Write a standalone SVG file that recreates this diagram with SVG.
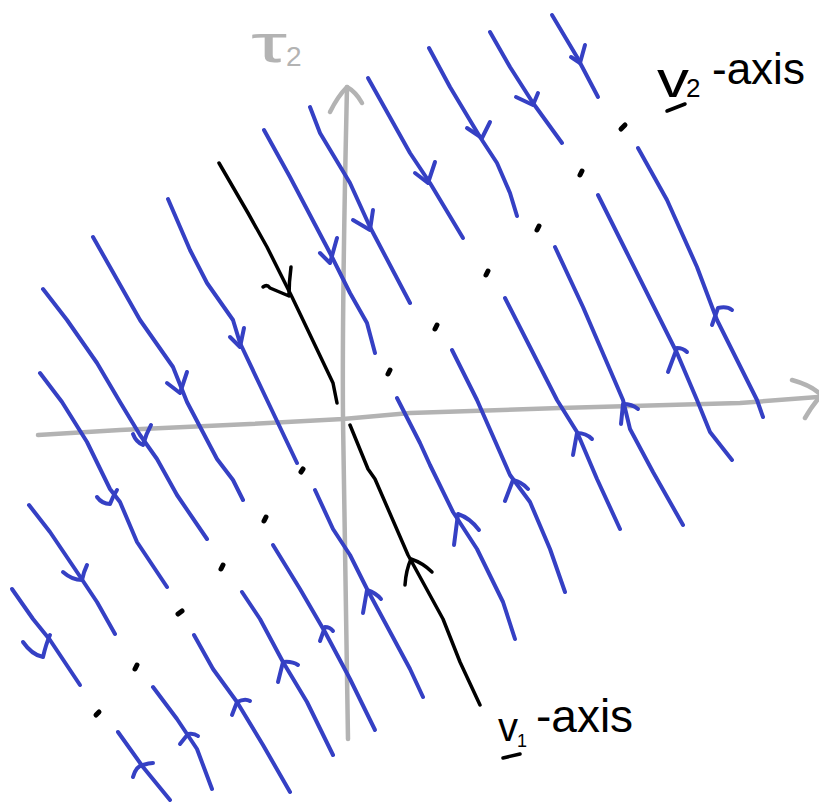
<svg xmlns="http://www.w3.org/2000/svg" width="819" height="804" viewBox="0 0 819 804">
<style>
.ax{fill:none;stroke:#b3b3b3;stroke-width:4.5;stroke-linecap:round;stroke-linejoin:round}
.tr{fill:none;stroke:#3540c4;stroke-width:4;stroke-linecap:round;stroke-linejoin:round}
.bk{fill:none;stroke:#000;stroke-width:3.5;stroke-linecap:round;stroke-linejoin:round}
.dot{fill:none;stroke:#000;stroke-width:5;stroke-linecap:round}
.lbl{font-family:"Liberation Sans",Arial,sans-serif;fill:#000}
.glbl{font-family:"Liberation Sans",Arial,sans-serif;fill:#b3b3b3}
</style>
<rect width="819" height="804" fill="#fff"/>
<g id="axes">
<path class="ax" d="M348,739 C346,600 343,480 343,420 C342,300 345,180 347,87"/>
<path class="ax" d="M330,112 Q338,96 347,87 Q356,92 362,103"/>
<path class="ax" d="M38,435 L120,430 L250,424 L343,419 L410,413 L560,408 L740,403 L818,397"/>
<path class="ax" d="M792,380 Q810,385 819,393 M805,418 Q812,406 819,398"/>
<text id="tau2" class="glbl"><tspan x="251" y="62" font-size="54" textLength="36" lengthAdjust="spacingAndGlyphs">τ</tspan><tspan x="286" y="66" font-size="28">2</tspan></text>
</g>
<g id="trajectories">
<g id="t1"><path class="tr" d="M43,289 L67,320 L97,363 L120,402 L140,435 L157,459 L177,495 L207,539"/><path class="tr" d="M133,434 Q136,442 143,445 Q146,434 151,425"/></g>
<g id="t2"><path class="tr" d="M93,237 L110,267 L140,320 L173,367 L187,402 L217,459 L233,480 L243,500"/><path class="tr" d="M167,383 L180,393 L187,372"/></g>
<g id="t3"><path class="tr" d="M168,199 L190,250 L207,283 L233,320 L240,343 L267,400 L297,463"/><path class="tr" d="M230,337 L240,347 L244,328"/></g>
<g id="t5"><path class="tr" d="M264,130 L290,177 L330,253 L350,293 L367,323 L375,353"/><path class="tr" d="M320,253 L330,263 L337,238"/></g>
<g id="t6"><path class="tr" d="M310,107 L320,133 L350,183 L370,227 L410,303"/><path class="tr" d="M353,220 L370,230 L373,210"/></g>
<g id="t7"><path class="tr" d="M368,78 L410,153 L430,183 L463,238"/><path class="tr" d="M415,173 L428,183 L435,162"/></g>
<g id="t8"><path class="tr" d="M429,48 L450,87 L480,137 L497,163 L510,193 L517,216"/><path class="tr" d="M467,128 L482,138 L490,122"/></g>
<g id="t9"><path class="tr" d="M490,32 L510,67 L533,103 L562,143"/><path class="tr" d="M516,97 L533,105 L538,93"/></g>
<g id="t10"><path class="tr" d="M552,15 L577,57 L598,97"/><path class="tr" d="M571,57 L580,63 L585,45"/></g>
<g id="t11"><path class="tr" d="M638,148 L667,200 L697,267 L717,320 L757,400 L763,417"/><path class="tr" d="M712,325 L718,308 Q727,306 732,310"/></g>
<g id="t12"><path class="tr" d="M598,195 L627,253 L677,353 L697,400 L710,432 L732,460"/><path class="tr" d="M668,372 L677,348 Q683,348 687,352"/></g>
<g id="t13"><path class="tr" d="M555,247 L583,307 L623,400 L630,429 L653,472 L683,525"/><path class="tr" d="M621,424 L623,404 Q632,404 638,409"/></g>
<g id="t14"><path class="tr" d="M505,298 L530,347 L557,400 L577,432 L597,479 L620,529"/><path class="tr" d="M573,455 L577,433 Q586,433 592,439"/></g>
<g id="t15"><path class="tr" d="M452,350 L477,400 L510,475 L530,502 L550,549 L565,592"/><path class="tr" d="M505,501 L513,480 Q522,482 528,489"/></g>
<g id="t16"><path class="tr" d="M397,398 L420,443 L430,465 L453,512 L477,549 L503,602 L515,639"/><path class="tr" d="M454,545 L458,514 Q470,518 479,530"/></g>
<g id="t17"><path class="tr" d="M40,373 L62,402 L87,442 L110,489 L120,502 L137,542 L167,587"/><path class="tr" d="M97,497 Q102,504 110,504 Q113,496 117,490"/></g>
<g id="t18"><path class="tr" d="M29,505 L50,532 L77,572 L97,602 L115,634"/><path class="tr" d="M63,572 Q72,580 82,580 Q84,571 87,565"/></g>
<g id="t19"><path class="tr" d="M12,589 L33,619 L50,640 L80,685"/><path class="tr" d="M23,642 Q32,655 43,657 Q46,644 50,635"/></g>
<g id="t20"><path class="tr" d="M315,490 L333,529 L350,555 L367,589 L410,669 L423,697"/><path class="tr" d="M363,613 L367,590 Q376,593 381,599"/></g>
<g id="t21"><path class="tr" d="M273,545 L300,589 L325,632 L350,679 L375,730"/><path class="tr" d="M320,641 L325,627 Q330,627 333,631"/></g>
<g id="t22"><path class="tr" d="M242,592 L260,619 L283,662 L307,702 L333,755"/><path class="tr" d="M278,682 L283,662 Q292,661 298,665"/></g>
<g id="t23"><path class="tr" d="M194,635 L213,669 L237,702 L263,745 L290,792"/><path class="tr" d="M232,715 L237,702 Q245,698 250,701"/></g>
<g id="t24"><path class="tr" d="M153,687 L177,719 L197,749 L212,789"/><path class="tr" d="M180,744 L188,734 Q194,733 198,736"/></g>
<g id="t25"><path class="tr" d="M118,732 L143,767 L170,800"/><path class="tr" d="M133,777 Q136,766 143,765 Q149,763 153,763"/></g>
</g>
<g id="v1-axis">
<path class="bk" d="M219,163 L248,213 L267,247 L292,297 L303,320 L333,383 L337,403"/>
<path class="bk" d="M263,287 Q267,284 270,288 L289,296 Q289,282 291,267"/>
<path class="bk" d="M350,425 L368,469 L375,479 L408,555 L443,619 L460,662 L480,705"/>
<path class="bk" d="M405,585 Q406,570 411,559 Q423,563 432,572"/>
</g>
<g id="v2-axis-dots">
<path class="dot" d="M621,129 L625,125"/>
<path class="dot" d="M580,175 L582,171"/>
<path class="dot" d="M537,230 L539,226"/>
<path class="dot" d="M486,275 L488,271"/>
<path class="dot" d="M435,329 L437,325"/>
<path class="dot" d="M388,374 L390,370"/>
<path class="dot" d="M301,472 L303,469"/>
<path class="dot" d="M264,521 L266,517"/>
<path class="dot" d="M221,569 L223,565"/>
<path class="dot" d="M178,614 L182,611"/>
<path class="dot" d="M135,669 L137,665"/>
<path class="dot" d="M96,715 L99,712"/>
</g>
<g id="labels">
<text class="lbl"><tspan x="657" y="97" font-size="52" textLength="32" lengthAdjust="spacingAndGlyphs">v</tspan><tspan x="686" y="97" font-size="26">2</tspan><tspan x="712" y="84" font-size="44">-axis</tspan></text>
<path class="bk" d="M667,111 L685,104"/>
<text class="lbl"><tspan x="498" y="741" font-size="40">v</tspan><tspan x="517" y="747" font-size="18">1</tspan><tspan x="536" y="732" font-size="46">-axis</tspan></text>
<path class="bk" d="M503,758 L520,754"/>
</g>
</svg>
